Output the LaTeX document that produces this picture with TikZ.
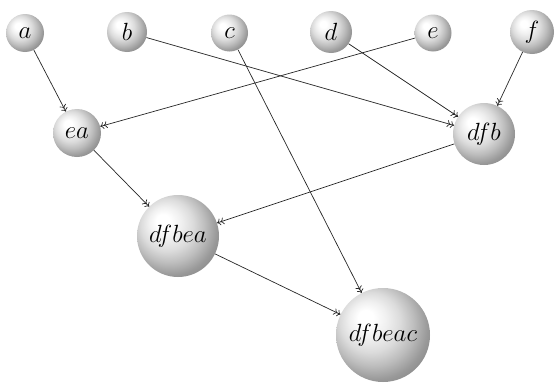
\documentclass[tikz,border=0pt]{standalone}
\usetikzlibrary{arrows.meta}
\pgfdeclareradialshading{lightball}{\pgfpoint{-10bp}{10bp}}{%
  color(0bp)=(white); color(4bp)=(white); color(10bp)=(black!6);
  color(16bp)=(black!14); color(22bp)=(black!26); color(28bp)=(black!40);
  color(35bp)=(black!50); color(50bp)=(black!55)}
\begin{document}
\begin{tikzpicture}[x=1pt,y=-1pt,
  ball/.style={circle,shading=lightball,inner sep=0pt,
    font=\fontsize{25}{29}\selectfont},
  link/.style={draw=black!85,line width=0.7pt,-{To[length=3.5pt,width=7pt]To[length=3.5pt,width=7pt]}}]
\useasboundingbox (0,0) rectangle (556,383);
\node[ball,minimum size=38pt] (a) at (25,33) {$a$};
\node[ball,minimum size=40pt] (b) at (127,32) {$b$};
\node[ball,minimum size=37pt] (c) at (229.5,33) {$c$};
\node[ball,minimum size=42pt] (d) at (331,32) {$d$};
\node[ball,minimum size=37pt] (e) at (433,33) {$e$};
\node[ball,minimum size=44pt] (f) at (532,32) {$f$};
\node[ball,minimum size=48pt] (ea) at (77,133) {$ea$};
\node[ball,minimum size=62pt] (dfb) at (484,134) {$dfb$};
\node[ball,minimum size=82pt] (dfbea) at (178,236) {$dfbea$};
\node[ball,minimum size=94pt] (dfbeac) at (383,335) {$dfbeac$};
\draw[link] (a) -- (ea);
\draw[link] (e) -- (ea);
\draw[link] (b) -- (dfb);
\draw[link] (d) -- (dfb);
\draw[link] (f) -- (dfb);
\draw[link] (ea) -- (dfbea);
\draw[link] (dfb) -- (dfbea);
\draw[link] (dfbea) -- (dfbeac);
\draw[link] (c) -- (dfbeac);
\end{tikzpicture}
\end{document}
